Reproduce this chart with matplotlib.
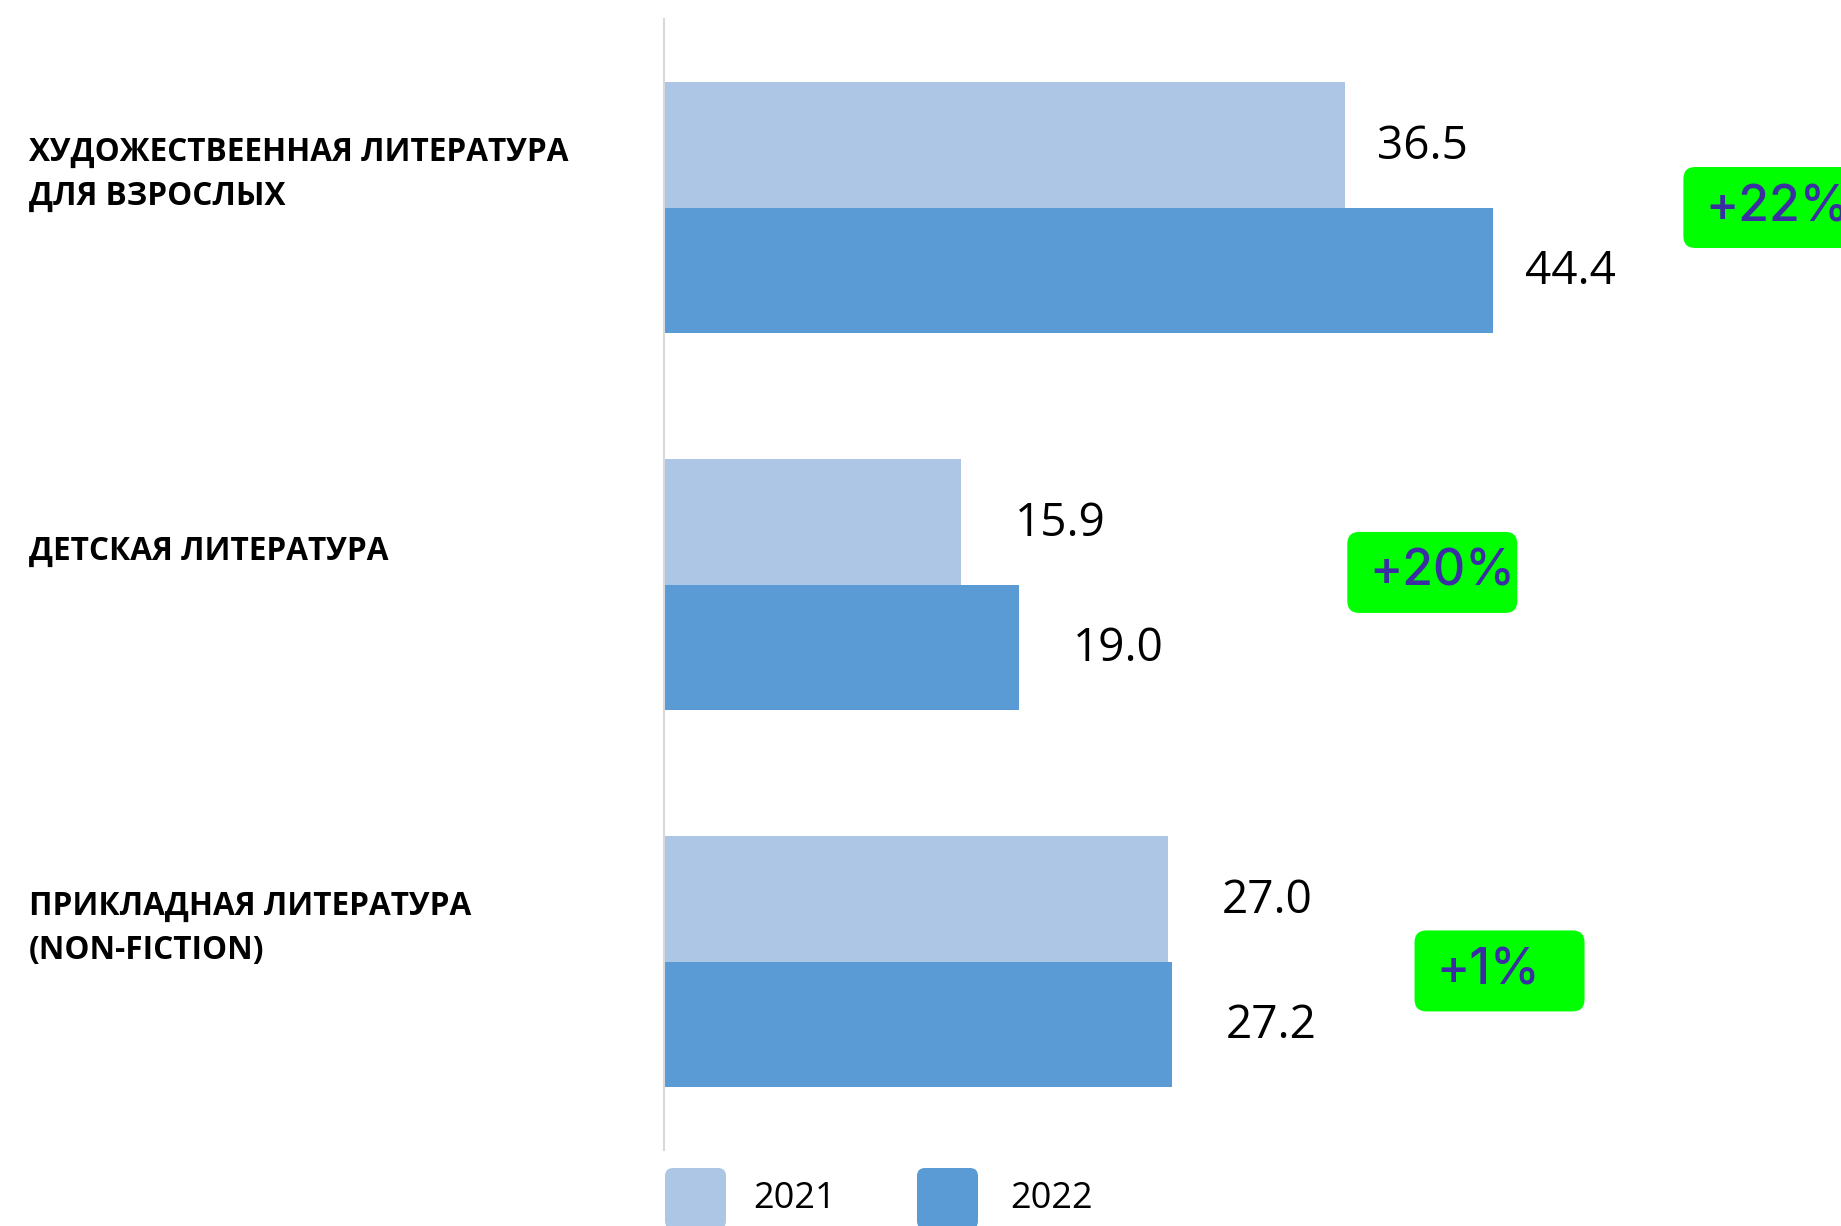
import matplotlib.pyplot as plt
from matplotlib.patches import FancyBboxPatch
from matplotlib.transforms import IdentityTransform, blended_transform_factory
import numpy as np

# data
categories = ['ХУДОЖЕСТВЕЕННАЯ ЛИТЕРАТУРА\nДЛЯ ВЗРОСЛЫХ',
              'ДЕТСКАЯ ЛИТЕРАТУРА',
              'ПРИКЛАДНАЯ ЛИТЕРАТУРА\n(NON-FICTION)']
years = ['2021', '2022']
values_2021 = [36.5, 15.9, 27.0]
values_2022 = [44.4, 19.0, 27.2]
growth = ['+22%', '+20%', '+1%']

# layout tweaks (data units)
label_pad = [1.7, 2.9, 2.9]
badge_x = [54.6, 36.6, 40.2]
badge_dy = [0.0, -0.032, 0.025]

c2021 = '#adc6e5'
c2022 = '#5b9bd5'
green = '#00ff00'
badge_col = '#3b2ea3'

W, H = 1841, 1226
fig = plt.figure(figsize=(W / 100, H / 100), dpi=100)
ax = fig.add_axes([664 / W, 1 - 1150 / H, 1 - 664 / W, (1150 - 19) / H])

y = np.arange(len(categories))
h = 0.333
ax.barh(y - h / 2, values_2021, height=h, color=c2021)
ax.barh(y + h / 2, values_2022, height=h, color=c2022)
ax.set_xlim(0, (W - 664) / 18.67)
ax.set_ylim(2.5, -0.5)
for s in ['top', 'right', 'bottom']:
    ax.spines[s].set_visible(False)
ax.spines['left'].set_color('#d9d9d9')
ax.spines['left'].set_linewidth(1.5)
ax.set_xticks([])
ax.set_yticks([])

# value labels
for i in range(len(categories)):
    ax.text(values_2021[i] + label_pad[i], i - h / 2 + 0.005, f'{values_2021[i]:.1f}',
            va='center', ha='left', fontsize=33, family='Open Sans')
    ax.text(values_2022[i] + label_pad[i], i + h / 2 + 0.005, f'{values_2022[i]:.1f}',
            va='center', ha='left', fontsize=33, family='Open Sans')

# category labels
tr = blended_transform_factory(fig.transFigure, ax.transData)
for i, cat in enumerate(categories):
    ax.text(29 / W, i - 0.088, cat, transform=tr, va='center', ha='left',
            fontsize=22.7, fontweight='bold', family='Open Sans', linespacing=1.46)

# growth badges
for i, g in enumerate(growth):
    x0, yc = ax.transData.transform((badge_x[i], i + badge_dy[i]))
    box = FancyBboxPatch((x0, yc - 40.5), 170, 81,
                         boxstyle='round,pad=0,rounding_size=12',
                         transform=IdentityTransform(), fc=green, ec='none')
    fig.add_artist(box)
    fig.text(x0 + 22, yc, g, transform=IdentityTransform(), va='center',
             ha='left', fontsize=36, fontweight='medium', color=badge_col,
             family='Inter')

# legend
for xs, xt, col, lab in [(665, 753, c2021, years[0]), (917, 1010, c2022, years[1])]:
    sq = FancyBboxPatch((xs, H - 1168 - 61), 61, 61,
                        boxstyle='round,pad=0,rounding_size=8',
                        transform=IdentityTransform(), fc=col, ec='none')
    fig.add_artist(sq)
    fig.text(xt, H - 1199, lab, transform=IdentityTransform(), va='center',
             ha='left', fontsize=26, family='Open Sans')

fig.savefig('out.png', dpi=100)
